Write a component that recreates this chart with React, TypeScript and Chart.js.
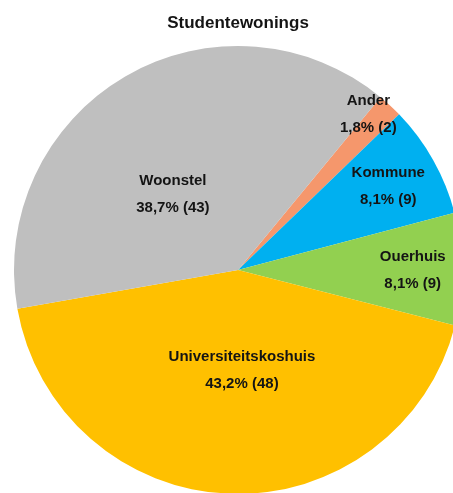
import React, { useEffect, useRef } from "react";
import { Chart, registerables } from "chart.js";

Chart.register(...registerables);

const TITLE = "Studentewonings";
const categories = ["Ander", "Kommune", "Ouerhuis", "Universiteitskoshuis", "Woonstel"];
const counts = [2, 9, 9, 48, 43];
const percentLabels = ["1,8%", "8,1%", "8,1%", "43,2%", "38,7%"];
const colors = ["#F5976C", "#00B0F0", "#92D050", "#FFC000", "#BFBFBF"];
// label placement: fraction of radius and angle tweak (degrees) from slice middle
const labelRadiusFrac = [0.91, 0.77, 0.78, 0.44, 0.45];
const labelAngleShift = [-3, 0, 0, -4.5, -10];
const ROTATION = 39.5;

const FONT = "'Liberation Sans', Arial, sans-serif";

const labelPlugin = {
  id: "sliceLabels",
  afterDatasetsDraw(chart: any) {
    const ctx = chart.ctx;
    const meta = chart.getDatasetMeta(0);
    ctx.save();
    ctx.fillStyle = "#141414";
    ctx.font = `bold 15px ${FONT}`;
    ctx.textAlign = "center";
    ctx.textBaseline = "middle";
    meta.data.forEach((arc: any, i: number) => {
      const p = arc.getProps(["x", "y", "startAngle", "endAngle", "outerRadius"], true);
      const mid = (p.startAngle + p.endAngle) / 2 + (labelAngleShift[i] * Math.PI) / 180;
      const r = p.outerRadius * labelRadiusFrac[i];
      const cx = p.x + Math.cos(mid) * r;
      const cy = p.y + Math.sin(mid) * r;
      ctx.fillText(categories[i], cx, cy - 12);
      ctx.fillText(`${percentLabels[i]} (${counts[i]})`, cx, cy + 15);
    });
    ctx.restore();
  },
};

export default function App() {
  const ref = useRef<HTMLCanvasElement | null>(null);
  useEffect(() => {
    if (!ref.current) return;
    const chart = new Chart(ref.current, {
      type: "pie",
      data: {
        labels: categories,
        datasets: [
          {
            data: counts,
            backgroundColor: colors,
            borderWidth: 0,
          },
        ],
      },
      options: {
        responsive: false,
        animation: false,
        rotation: ROTATION,
        layout: { padding: 0 },
        plugins: {
          legend: { display: false },
          tooltip: { enabled: false },
          title: {
            display: true,
            text: TITLE,
            color: "#141414",
            font: { family: FONT, size: 17, weight: "bold", lineHeight: 1.2 },
            padding: { top: 13, bottom: 12.6 },
          },
        },
      },
      plugins: [labelPlugin],
    });
    return () => chart.destroy();
  }, []);
  return (
    <div
      style={{
        position: "fixed",
        left: 0,
        top: 0,
        width: 453,
        height: 493,
        overflow: "hidden",
        background: "#ffffff",
      }}
    >
      <canvas ref={ref} width={476} height={494} style={{ display: "block" }} />
    </div>
  );
}
